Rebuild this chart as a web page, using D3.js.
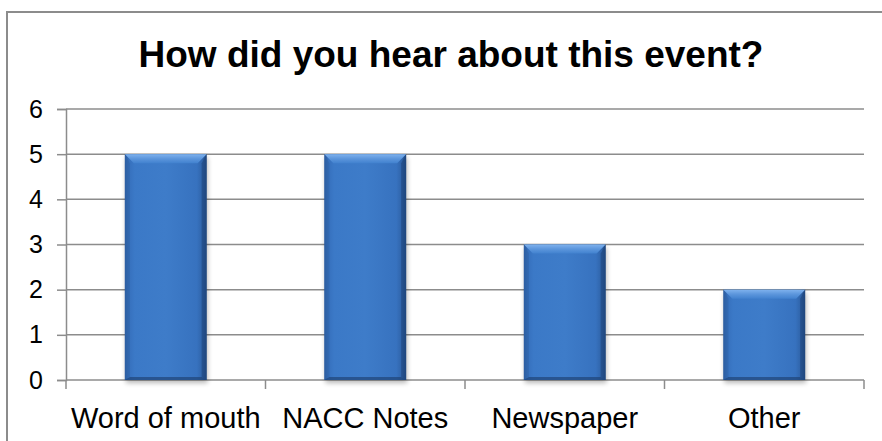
<!DOCTYPE html>
<html>
<head>
<meta charset="utf-8">
<script src="https://cdn.jsdelivr.net/npm/d3@7"></script>
<style>
  html, body { margin: 0; padding: 0; background: #fff; }
  svg { display: block; font-family: Arial, "Liberation Sans", sans-serif; }
</style>
</head>
<body>
<svg id="chart" width="882" height="441"></svg>
<script>
// Survey answers
const categories = ["Word of mouth", "NACC Notes", "Newspaper", "Other"];
const counts = [5, 5, 3, 2];
const yTicks = [0, 1, 2, 3, 4, 5, 6];
const title = "How did you hear about this event?";

const svg = d3.select("#chart");
const W = 882, H = 441;
const plot = { left: 66, right: 864, top: 109, bottom: 380 };

const x = d3.scaleBand()
  .domain(categories)
  .range([plot.left, plot.right])
  .paddingInner(0.59)
  .paddingOuter(0.295);

const y = d3.scaleLinear()
  .domain([0, 6])
  .range([plot.bottom, plot.top]);

const defs = svg.append("defs");

// Horizontal body shading of each bar
const body = defs.append("linearGradient").attr("id", "barBody")
  .attr("x1", "0").attr("x2", "1").attr("y1", "0").attr("y2", "0");
[[0, "#29579a"], [0.05, "#3670bd"], [0.12, "#3b79c7"], [0.5, "#3e7cc9"],
 [0.88, "#3772bf"], [0.95, "#2f63a8"], [1, "#1f4880"]]
  .forEach(([o, c]) => body.append("stop").attr("offset", o).attr("stop-color", c));

// Top bevel highlight
const bevel = defs.append("linearGradient").attr("id", "barBevel")
  .attr("x1", "0").attr("x2", "0").attr("y1", "0").attr("y2", "1");
[[0, "#7fb2ee"], [0.5, "#5c96dc"], [1, "#4282cf"]]
  .forEach(([o, c]) => bevel.append("stop").attr("offset", o).attr("stop-color", c));

const shadow = defs.append("filter").attr("id", "barShadow")
  .attr("x", "-20%").attr("y", "-20%").attr("width", "140%").attr("height", "140%");
shadow.append("feGaussianBlur").attr("stdDeviation", 2.5);

// Outer frame
svg.append("rect")
  .attr("x", 7).attr("y", 12)
  .attr("width", W + 20).attr("height", H + 20)
  .attr("fill", "#fff")
  .attr("stroke", "#8c8c8c").attr("stroke-width", 2);

// Title
svg.append("text")
  .attr("x", 451).attr("y", 67)
  .attr("text-anchor", "middle")
  .attr("font-size", 37).attr("font-weight", "bold")
  .attr("fill", "#000")
  .text(title);

// Horizontal gridlines
svg.append("g")
  .selectAll("line")
  .data(yTicks.filter(d => d > 0))
  .join("line")
  .attr("x1", plot.left).attr("x2", plot.right)
  .attr("y1", d => y(d)).attr("y2", d => y(d))
  .attr("stroke", "#8c8c8c").attr("stroke-width", 1.5);

// Y axis
const yAxis = svg.append("g")
  .attr("transform", `translate(${plot.left},0)`)
  .call(d3.axisLeft(y).tickValues(yTicks).tickSize(9).tickPadding(14).tickFormat(d3.format("d")));
yAxis.select(".domain").attr("stroke", "#8c8c8c").attr("stroke-width", 1.5);
yAxis.selectAll(".tick line").attr("stroke", "#8c8c8c").attr("stroke-width", 1.5);
yAxis.selectAll(".tick text")
  .attr("font-size", 25).attr("fill", "#000")
  .attr("font-family", "Arial, 'Liberation Sans', sans-serif");

// X axis with ticks at category boundaries
const xAxisG = svg.append("g");
xAxisG.append("line")
  .attr("x1", plot.left).attr("x2", plot.right)
  .attr("y1", y(0)).attr("y2", y(0))
  .attr("stroke", "#8c8c8c").attr("stroke-width", 1.5);
const step = x.step();
const boundaries = categories.map(c => x(c) - step * x.paddingInner() / 2)
  .concat([plot.right]);
xAxisG.selectAll("line.tick")
  .data(boundaries)
  .join("line").attr("class", "tick")
  .attr("x1", d => d).attr("x2", d => d)
  .attr("y1", y(0)).attr("y2", y(0) + 9)
  .attr("stroke", "#8c8c8c").attr("stroke-width", 1.5);
xAxisG.selectAll("text")
  .data(categories)
  .join("text")
  .attr("x", d => x(d) + x.bandwidth() / 2)
  .attr("y", 428)
  .attr("text-anchor", "middle")
  .attr("font-size", 29).attr("fill", "#000")
  .text(d => d);

// Bars
const data = categories.map((c, i) => ({ cat: c, v: counts[i] }));
const bars = svg.append("g").selectAll("g").data(data).join("g");

bars.append("rect")
  .attr("x", d => x(d.cat) + 1)
  .attr("y", d => y(d.v) + 3)
  .attr("width", x.bandwidth())
  .attr("height", d => y(0) - y(d.v))
  .attr("fill", "#000").attr("opacity", 0.28)
  .attr("filter", "url(#barShadow)");

bars.append("rect")
  .attr("x", d => x(d.cat))
  .attr("y", d => y(d.v))
  .attr("width", x.bandwidth())
  .attr("height", d => y(0) - y(d.v))
  .attr("fill", "url(#barBody)");

const bev = 9;
bars.append("path")
  .attr("d", d => {
    const x0 = x(d.cat), x1 = x0 + x.bandwidth(), t = y(d.v);
    return `M${x0},${t}L${x1},${t}L${x1 - bev},${t + bev}L${x0 + bev},${t + bev}Z`;
  })
  .attr("fill", "url(#barBevel)");

// Left and right side bevels
bars.append("path")
  .attr("d", d => {
    const x0 = x(d.cat), t = y(d.v), b = y(0);
    return `M${x0},${t}L${x0 + 5},${t + bev}L${x0 + 5},${b - 3}L${x0},${b}Z`;
  })
  .attr("fill", "#2f62a6").attr("opacity", 0.6);
bars.append("path")
  .attr("d", d => {
    const x1 = x(d.cat) + x.bandwidth(), t = y(d.v), b = y(0);
    return `M${x1},${t}L${x1 - 5},${t + bev}L${x1 - 5},${b - 3}L${x1},${b}Z`;
  })
  .attr("fill", "#1f467d").attr("opacity", 0.6);
bars.append("path")
  .attr("d", d => {
    const x0 = x(d.cat), x1 = x0 + x.bandwidth(), b = y(0);
    return `M${x0},${b}L${x0 + 5},${b - 3}L${x1 - 5},${b - 3}L${x1},${b}Z`;
  })
  .attr("fill", "#1f4577").attr("opacity", 0.7);
</script>
</body>
</html>
